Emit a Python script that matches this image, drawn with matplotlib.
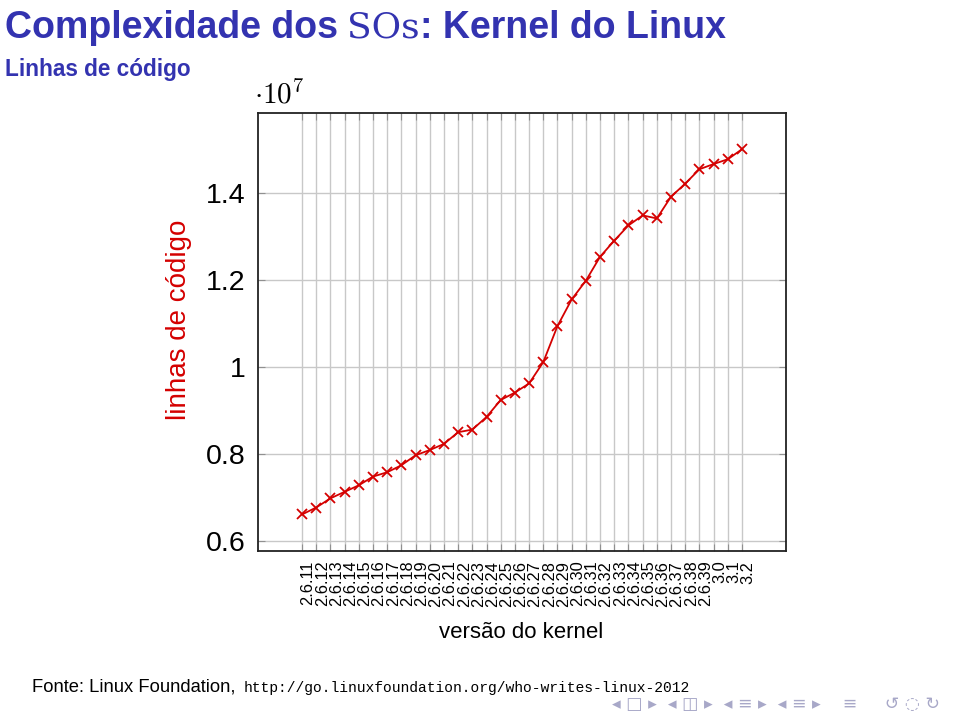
import matplotlib
matplotlib.use('Agg')
import matplotlib.pyplot as plt
import matplotlib.transforms as mtransforms
from matplotlib.ticker import FixedLocator, FixedFormatter

# ---------------- data ----------------
versions = ['2.6.11', '2.6.12', '2.6.13', '2.6.14', '2.6.15', '2.6.16', '2.6.17',
            '2.6.18', '2.6.19', '2.6.20', '2.6.21', '2.6.22', '2.6.23', '2.6.24',
            '2.6.25', '2.6.26', '2.6.27', '2.6.28', '2.6.29', '2.6.30', '2.6.31',
            '2.6.32', '2.6.33', '2.6.34', '2.6.35', '2.6.36', '2.6.37', '2.6.38',
            '2.6.39', '3.0', '3.1', '3.2']
lines_1e7 = [0.662, 0.678, 0.699, 0.714, 0.729, 0.749, 0.759, 0.775, 0.798, 0.810,
             0.824, 0.851, 0.857, 0.886, 0.925, 0.942, 0.963, 1.012, 1.095, 1.156,
             1.199, 1.254, 1.291, 1.326, 1.349, 1.342, 1.392, 1.422, 1.455, 1.467,
             1.478, 1.501]
ytick_values = [0.6, 0.8, 1.0, 1.2, 1.4]
ytick_labels = ['0.6', '0.8', '1', '1.2', '1.4']

title_parts = ['Complexidade dos', 'SOs', ': Kernel do Linux']
subtitle = 'Linhas de código'
xlabel = 'versão do kernel'
ylabel = 'linhas de código'
source_text = 'Fonte: Linux Foundation,'
source_url = 'http://go.linuxfoundation.org/who-writes-linux-2012'

BLUE = '#3333b0'
RED = '#d40000'
SANS = 'Liberation Sans'

W, H = 960, 718
fig = plt.figure(figsize=(W / 100, H / 100), dpi=100)
fig.patch.set_facecolor('white')

def px(x, y):
    return x / W, 1 - y / H

ax = fig.add_axes([258 / W, 1 - 551 / H, (786 - 258) / W, (551 - 112.7) / H])

xs = list(range(len(versions)))
ax.plot(xs, lines_1e7, color=RED, lw=1.3, marker='x', ms=7, mew=1.3, zorder=3)

n = len(versions) - 1
ax.set_xlim(-0.1 * n, n + 0.1 * n)
rng = max(lines_1e7) - min(lines_1e7)
ax.set_ylim(min(lines_1e7) - 0.1 * rng, max(lines_1e7) + 0.1 * rng)

ax.xaxis.set_major_locator(FixedLocator(xs))
ax.xaxis.set_major_formatter(FixedFormatter(versions))
ax.yaxis.set_major_locator(FixedLocator(ytick_values))
ax.yaxis.set_major_formatter(FixedFormatter(ytick_labels))

ax.grid(True, color='#c8c8c8', lw=1.0, zorder=0)
ax.set_axisbelow(True)
for s in ax.spines.values():
    s.set_color('#222222')
    s.set_linewidth(1.3)

ax.tick_params(axis='both', direction='in', length=5, color='#909090',
               top=True, right=True)
ax.tick_params(axis='y', labelsize=20.5, pad=9)
ax.tick_params(axis='x', labelsize=11.8, pad=7)
for lab in ax.get_yticklabels():
    lab.set_fontfamily(SANS)
offset = mtransforms.ScaledTranslation(6 / 100, 0, fig.dpi_scale_trans)
for lab in ax.get_xticklabels():
    lab.set_rotation(90)
    lab.set_ha('center')
    lab.set_va('top')
    lab.set_fontfamily(SANS)
    lab.set_transform(lab.get_transform() + offset)

# axis labels
fig.text(*px(521, 632), xlabel, ha='center', va='center', fontsize=16,
         family=SANS, color='black')
fig.text(*px(179, 320), ylabel, ha='center', va='center', rotation=90,
         fontsize=20, family=SANS, color=RED)

# scale factor
plt.rcParams['mathtext.fontset'] = 'cm'
fig.text(*px(254, 104), r'$\cdot 10^{7}$', ha='left', va='baseline', fontsize=21,
         color='black')

# title in pieces
fig.canvas.draw()
r = fig.canvas.get_renderer()

def place_seq(x0, y0, parts):
    x = x0
    for s, gap, kw in parts:
        x += gap
        t = fig.text(x / W, 1 - y0 / H, s, ha='left', va='baseline', **kw)
        bb = t.get_window_extent(renderer=r)
        x = bb.x1
    return x

title_kw = dict(fontsize=27, fontweight='bold', family=SANS, color=BLUE)
serif_kw = dict(fontsize=26, family='DejaVu Serif', color=BLUE)
place_seq(5, 38, [(title_parts[0], 0, title_kw),
                  (title_parts[1], 9, serif_kw),
                  (title_parts[2], 0, title_kw)])

fig.text(*px(5, 76), subtitle, ha='left', va='baseline', fontsize=16.3,
         fontweight='bold', family=SANS, color=BLUE)

place_seq(32, 692, [(source_text, 0, dict(fontsize=13.2, family=SANS, color='black')),
                    (source_url, 8, dict(fontsize=10.55, family='Liberation Mono',
                                         color='black'))])

fig.text(*px(612, 709), '◂ □ ▸  ◂ ◫ ▸  ◂ ≡ ▸  ◂ ≡ ▸    ≡     ↺ ◌ ↻',
         ha='left', va='baseline', fontsize=12.5, family='DejaVu Sans',
         color='#a8a8c8')

fig.savefig('out.png', dpi=100, facecolor='white')
